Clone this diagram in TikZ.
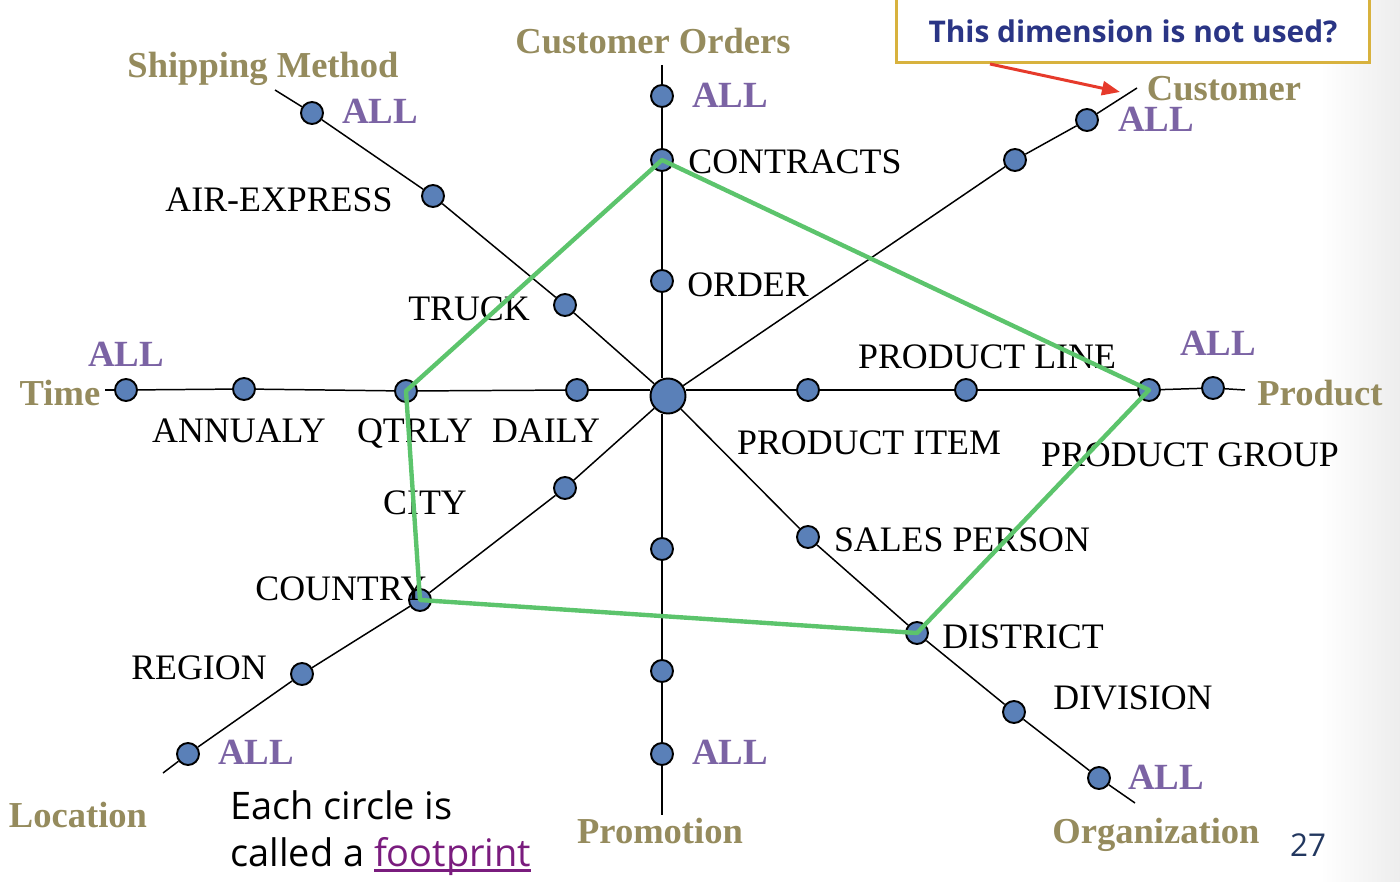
\documentclass[tikz,border=0pt]{standalone}
\usepackage{fontspec}
\setmainfont{Liberation Serif}
\newfontfamily\slidefont{Open Sans}
\usetikzlibrary{arrows.meta}

\definecolor{dimolive}{HTML}{958B5D}
\definecolor{allpurple}{HTML}{7B63A4}
\definecolor{fpblue}{HTML}{5A80B8}
\definecolor{footgreen}{HTML}{5CC46C}
\definecolor{calloutgold}{HTML}{D8B23E}
\definecolor{calloutnavy}{HTML}{2A3585}
\definecolor{arrowred}{HTML}{E63A2B}
\definecolor{linkpurple}{HTML}{7A1C7E}
\definecolor{pagenavy}{HTML}{22375F}

\newcommand{\linkline}[1]{\setbox0\hbox{#1}\rlap{\rule[-0.13em]{\wd0}{0.06em}}\box0}

\begin{document}
\begin{tikzpicture}[x=0.02cm, y=-0.02cm,
    fp/.style={circle, draw, line width=1.1pt, fill=fpblue, minimum size=0.44cm, inner sep=0pt},
    hub/.style={fp, minimum size=0.7cm},
    axis/.style={line width=0.85pt},
    lvl/.style={font=\fontsize{20.4}{23}\selectfont, inner sep=0pt, text depth=0pt},
    dimname/.style={font=\fontsize{20.8}{23}\selectfont\bfseries, text=dimolive, inner sep=0pt, anchor=base},
    alllbl/.style={font=\fontsize{21}{23}\selectfont\bfseries, text=allpurple, inner sep=0pt}]
    \useasboundingbox (0,0) rectangle (1400,882);
    % slide shading at the right edge
    \fill[left color=white, right color=black!7, draw=none] (1320,0) rectangle (1400,882);

    % the star centre
    \node[hub] (hub) at (668,396) {};

    % Time
    \coordinate (timeend) at (105,390);
    \node[fp] (t0) at (126,390) {};
    \node[fp] (t1) at (244,389) {};
    \node[fp] (t2) at (406,391) {};
    \node[fp] (t3) at (577,390) {};
    % Product
    \node[fp] (p1) at (808,390) {};
    \node[fp] (p2) at (966,390) {};
    \node[fp] (p3) at (1149,390) {};
    \node[fp] (p4) at (1213,388) {};
    \coordinate (prodend) at (1245,390);
    % Customer Orders
    \coordinate (ordend) at (662,65);
    \node[fp] (o0) at (662,96) {};
    \node[fp] (o1) at (662,160) {};
    \node[fp] (o2) at (662,281) {};
    % Promotion
    \node[fp] (m1) at (662,549) {};
    \node[fp] (m2) at (662,671) {};
    \node[fp] (m3) at (662,754) {};
    \coordinate (promend) at (662,815);
    % Shipping Method
    \coordinate (shipend) at (275,90);
    \node[fp] (s0) at (312,113) {};
    \node[fp] (s1) at (433,196) {};
    \node[fp] (s2) at (565,305) {};
    % Customer
    \node[fp] (c1) at (1015,160) {};
    \node[fp] (c2) at (1087,120) {};
    \coordinate (custend) at (1137,88);
    % Location
    \node[fp] (l1) at (565,488) {};
    \node[fp] (l2) at (420,600) {};
    \node[fp] (l3) at (302,674) {};
    \node[fp] (l4) at (188,754) {};
    \coordinate (locend) at (163,773);
    % Organization
    \node[fp] (g1) at (808,537) {};
    \node[fp] (g2) at (917,633) {};
    \node[fp] (g3) at (1014,712) {};
    \node[fp] (g4) at (1099,778) {};
    \coordinate (orgend) at (1135,803);

    \foreach \a/\b in {timeend/t0, t0/t1, t1/t2, t2/t3,
                       p1/p2, p2/p3, p3/p4, p4/prodend,
                       ordend/o0, o0/o1, o1/o2,
                       m1/m2, m2/m3, m3/promend,
                       shipend/s0, s0/s1, s1/s2, s2/hub,
                       hub/c1, c1/c2, c2/custend,
                       hub/l1, l1/l2, l2/l3, l3/l4, l4/locend,
                       hub/g1, g1/g2, g2/g3, g3/g4, g4/orgend}
        \draw[axis] (\a) -- (\b);
    % the two straight axes pass a little off the centre
    \draw[axis] (t3) -- (t3 -| hub.west);
    \draw[axis] (hub.east |- p1) -- (p1);
    \draw[axis] (o2) -- (o2 |- hub.north);
    \draw[axis] (m1 |- hub.south) -- (m1);

    % dimension names
    \node[dimname] (shipname) at (263,78) {Shipping Method};
    \node[dimname] (ordname) at (653,54) {Customer Orders};
    \node[dimname] (custname) at (1224,101) {Customer};
    \node[dimname] (timename) at (60,405) {Time};
    \node[dimname] (prodname) at (1320,405) {Product};
    \node[dimname] (locname) at (78,827) {Location};
    \node[dimname] (promname) at (660,843) {Promotion};
    \node[dimname] (orgname) at (1156,843) {Organization};

    % top levels
    \node[alllbl] (shipall) at (380,111) {ALL};
    \node[alllbl] (ordall) at (730,95) {ALL};
    \node[alllbl] (custall) at (1156,119) {ALL};
    \node[alllbl] (timeall) at (126,354) {ALL};
    \node[alllbl] (prodall) at (1218,343) {ALL};
    \node[alllbl] (locall) at (256,752) {ALL};
    \node[alllbl] (promall) at (730,752) {ALL};
    \node[alllbl] (orgall) at (1166,777) {ALL};

    % levels
    \node[lvl] (airx) at (279,200) {AIR-EXPRESS};
    \node[lvl] (truck) at (469,309) {TRUCK};
    \node[lvl, anchor=west] (contracts) at (688,162) {CONTRACTS};
    \node[lvl] (order) at (748,285) {ORDER};
    \node[lvl] (annualy) at (239,431) {ANNUALY};
    \node[lvl] (qtrly) at (415,431) {QTRLY};
    \node[lvl] (daily) at (546,431) {DAILY};
    \node[lvl] (prodline) at (987,357) {PRODUCT LINE};
    \node[lvl] (proditem) at (869,443) {PRODUCT ITEM};
    \node[lvl] (prodgroup) at (1190,455) {PRODUCT GROUP};
    \node[lvl] (city) at (425,503) {CITY};
    \node[lvl] (salesp) at (962,540) {SALES PERSON};
    \node[lvl] (country) at (341,589) {COUNTRY};
    \node[lvl] (district) at (1023,637) {DISTRICT};
    \node[lvl] (region) at (199,668) {REGION};
    \node[lvl] (division) at (1133,698) {DIVISION};

    % the footprint
    \draw[footgreen, line width=2.5pt, line join=round]
        (o1.center) -- (p3.center) -- (g2.center) -- (l2.center) -- (t2.center) -- cycle;

    % callout
    \node[draw=calloutgold, fill=white, line width=1.7pt, anchor=south, minimum width=9.46cm,
          text height=1cm, text depth=0pt, inner ysep=0.4cm,
          font=\slidefont\fontsize{17}{20}\selectfont\bfseries, text=calloutnavy]
        (note) at (1133,64) {This dimension is not used?};
    \coordinate (arrowtail) at (990,64);
    \coordinate (arrowtip) at (1120,92);
    \draw[arrowred, line width=1.7pt, -{Triangle[length=0.36cm, width=0.28cm]}]
        (arrowtail) -- (arrowtip);

    \node[anchor=west, align=left, inner sep=0pt, font=\slidefont\fontsize{21.6}{27}\selectfont]
        (remark) at (230,833) {Each circle is\\called a \textcolor{linkpurple}{\linkline{footprint}}};
    \node[font=\slidefont\fontsize{17.9}{20}\selectfont, text=pagenavy] (pagenum) at (1308,845) {27};
\end{tikzpicture}
\end{document}
